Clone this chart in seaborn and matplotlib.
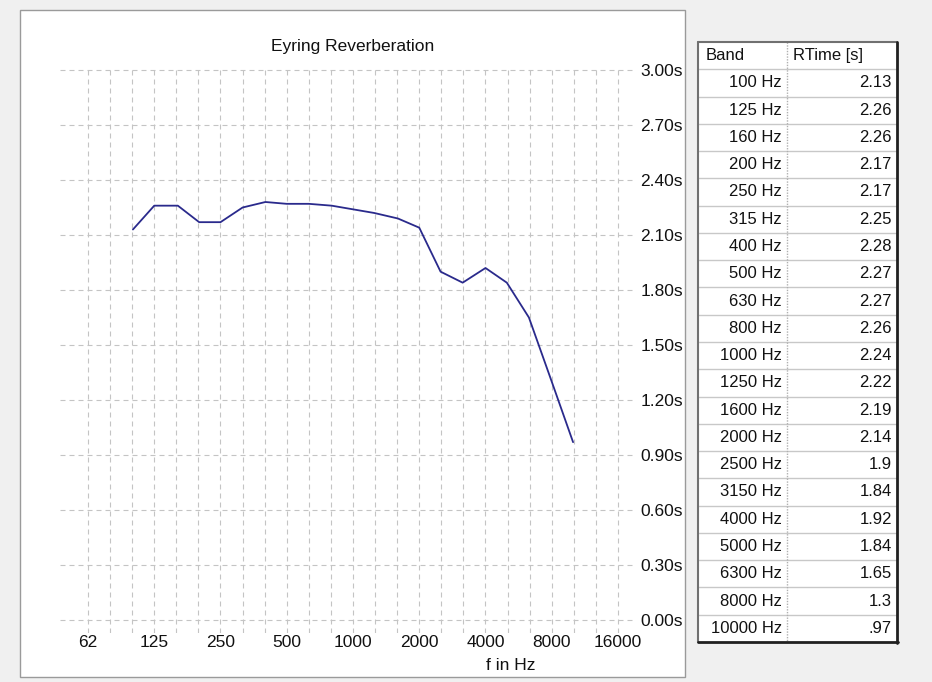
import matplotlib
matplotlib.use("Agg")
import matplotlib.pyplot as plt
from matplotlib.patches import Rectangle
from matplotlib.lines import Line2D
from matplotlib import font_manager
import seaborn as sns
import pandas as pd

# ---------------- data ----------------
band_hz = [100, 125, 160, 200, 250, 315, 400, 500, 630, 800, 1000,
           1250, 1600, 2000, 2500, 3150, 4000, 5000, 6300, 8000, 10000]
rtime_s = [2.13, 2.26, 2.26, 2.17, 2.17, 2.25, 2.28, 2.27, 2.27, 2.26, 2.24,
           2.22, 2.19, 2.14, 1.90, 1.84, 1.92, 1.84, 1.65, 1.30, 0.97]
x_tick_values = [62.5, 125, 250, 500, 1000, 2000, 4000, 8000, 16000]
x_tick_labels = ["62", "125", "250", "500", "1000", "2000", "4000", "8000", "16000"]
y_tick_values = [0.0, 0.3, 0.6, 0.9, 1.2, 1.5, 1.8, 2.1, 2.4, 2.7, 3.0]
title = "Eyring Reverberation"
x_label = "f in Hz"
table_headers = ["Band", "RTime [s]"]

df = pd.DataFrame({"f": band_hz, "rt": rtime_s})

# ---------------- style ----------------
sns.set_theme(style="white")
plt.rcParams["font.family"] = ["Liberation Sans", "DejaVu Sans"]

installed = {f.name for f in font_manager.fontManager.ttflist}
if "Liberation Sans Narrow" in installed:
    chart_font = ["Liberation Sans Narrow", "DejaVu Sans"]
    chart_size = 15
else:
    chart_font = ["Liberation Sans", "DejaVu Sans"]
    chart_size = 12.5

W, H = 932, 682
fig = plt.figure(figsize=(W / 100, H / 100), dpi=100, facecolor="#f0f0f0")


def fx(px):
    return px / W


def fy(py):
    return 1 - py / H


def frect(x0, y0, x1, y1, **kw):
    r = Rectangle((fx(x0), fy(y1)), (x1 - x0) / W, (y1 - y0) / H,
                  transform=fig.transFigure, **kw)
    fig.add_artist(r)
    return r


def fline(x0, y0, x1, y1, **kw):
    l = Line2D([fx(x0), fx(x1)], [fy(y0), fy(y1)], transform=fig.transFigure, **kw)
    fig.add_artist(l)
    return l


# white chart panel
frect(20, 10, 685, 677, facecolor="white", edgecolor="#9a9a9a", linewidth=1.0, zorder=0)

# ---------------- chart axes ----------------
top_px, zero_px, bot_px = 69, 620, 633
left_px, right_px = 60, 636
px_per_s = (zero_px - 70) / 3.0
ax = fig.add_axes([fx(left_px), fy(bot_px), (right_px - left_px) / W, (bot_px - top_px) / H])
ax.set_facecolor("none")

sns.lineplot(data=df, x="f", y="rt", ax=ax, color="#2a2a8c", linewidth=1.3, zorder=3)

ax.set_xscale("log", base=2)
oct_per_px = 1 / 66.25
ax.set_xlim(62.5 / 2 ** ((88 - left_px) * oct_per_px), 16000 * 2 ** ((right_px - 618) * oct_per_px))
ax.set_ylim(-(bot_px - zero_px) / px_per_s, 3.0 + (70 - top_px) / px_per_s)

ax.set_xticks(x_tick_values)
ax.set_xticklabels(x_tick_labels)
minor = [x_tick_values[0] * 2 ** (k / 3) for k in range(1, 24) if k % 3]
ax.set_xticks(minor, minor=True)
ax.xaxis.set_minor_formatter(plt.NullFormatter())

ax.yaxis.tick_right()
ax.set_yticks(y_tick_values)
ax.set_yticklabels([f"{v:.2f}s" for v in y_tick_values])

ax.tick_params(axis="both", which="both", length=0, labelsize=chart_size, colors="#111111")
ax.tick_params(axis="y", pad=3.0)
ax.tick_params(axis="x", pad=1.5)
for lab in ax.get_xticklabels() + ax.get_yticklabels():
    lab.set_family(chart_font)
ax.set_xlabel("")
ax.set_ylabel("")

grid_kw = dict(color="#c4c4c4", linewidth=0.8, linestyle=(0, (4.5, 3.6)))
ax.grid(True, axis="x", which="both", **grid_kw)
ax.grid(True, axis="y", which="major", **grid_kw)
ax.set_axisbelow(True)
for s in ax.spines.values():
    s.set_visible(False)

fig.text(fx(353), fy(46), title, ha="center", va="center", fontsize=chart_size,
         family=chart_font, color="#111111")
fig.text(fx(511), fy(665), x_label, ha="center", va="center", fontsize=chart_size,
         family=chart_font, color="#111111")

# ---------------- table ----------------
t_left, t_right, t_top, t_bot = 698, 897, 42, 642
col_div = 787
n_rows = len(band_hz) + 1
row_h = (t_bot - t_top) / n_rows

frect(t_left, t_top, t_right, t_bot, facecolor="white", edgecolor="none", zorder=1)
for i in range(1, n_rows):
    y = t_top + i * row_h
    fline(t_left, y, t_right, y, color="#c8c8c8", linewidth=1.0, zorder=2)
fline(col_div, t_top, col_div, t_bot, color="#b0b0b0", linewidth=1.0,
      linestyle=(0, (1, 1)), zorder=2)
# borders: light/dark 3D look
fline(t_left, t_top, t_right, t_top, color="#707070", linewidth=1.5, zorder=3)
fline(t_left, t_top, t_left, t_bot, color="#707070", linewidth=1.5, zorder=3)
fline(t_right, t_top, t_right, t_bot + 1, color="#202020", linewidth=2.0, zorder=3)
fline(t_left, t_bot, t_right + 1, t_bot, color="#202020", linewidth=2.0, zorder=3)


def fmt_val(v):
    s = f"{v:g}"
    return s[1:] if s.startswith("0.") else s


yc = t_top + row_h / 2
fig.text(fx(706), fy(yc), table_headers[0], ha="left", va="center", fontsize=12, color="#111111")
fig.text(fx(793), fy(yc), table_headers[1], ha="left", va="center", fontsize=12, color="#111111")
for i, (b, v) in enumerate(zip(band_hz, rtime_s), start=1):
    yc = t_top + (i + 0.5) * row_h
    fig.text(fx(782), fy(yc), f"{b} Hz", ha="right", va="center", fontsize=12, color="#111111")
    fig.text(fx(892), fy(yc), fmt_val(v), ha="right", va="center", fontsize=12, color="#111111")

fig.savefig("out.png", dpi=100, facecolor=fig.get_facecolor())
